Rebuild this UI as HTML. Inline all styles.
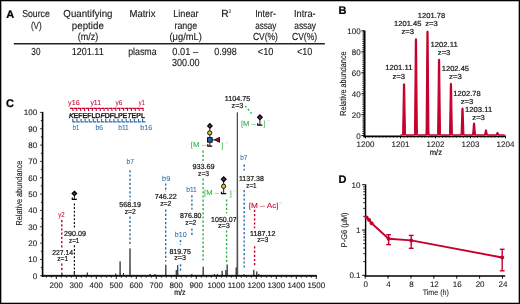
<!DOCTYPE html>
<html><head><meta charset="utf-8"><style>
html,body{margin:0;padding:0;background:#fff;}
body{width:520px;height:304px;overflow:hidden;position:relative;}
svg{position:absolute;left:0;top:0;font-family:"Liberation Sans", sans-serif;will-change:transform;text-rendering:geometricPrecision;filter:blur(0.3px);}
.frame{position:absolute;left:0;top:0;width:520px;height:304px;box-sizing:border-box;border:1px solid #000;box-shadow:inset 0 0 0 0.6px rgba(0,0,0,0.55);}
</style></head><body>
<svg width="520" height="304" viewBox="0 0 520 304" fill="#1a1a1a">
<text x="6.20" y="17.60" font-size="11" stroke="#000" stroke-width="0.22" fill="#000" font-weight="bold">A</text>
<text x="36.00" y="17.20" font-size="10.2" stroke="#1a1a1a" stroke-width="0.14" text-anchor="middle" textLength="27.70" lengthAdjust="spacingAndGlyphs">Source</text>
<text x="36.30" y="28.50" font-size="10.2" stroke="#1a1a1a" stroke-width="0.14" text-anchor="middle" textLength="10.70" lengthAdjust="spacingAndGlyphs">(V)</text>
<text x="87.90" y="17.20" font-size="10.2" stroke="#1a1a1a" stroke-width="0.14" text-anchor="middle" textLength="49.10" lengthAdjust="spacingAndGlyphs">Quantifying</text>
<text x="87.85" y="28.50" font-size="10.2" stroke="#1a1a1a" stroke-width="0.14" text-anchor="middle" textLength="32.00" lengthAdjust="spacingAndGlyphs">peptide</text>
<text x="87.90" y="39.80" font-size="10.2" stroke="#1a1a1a" stroke-width="0.14" text-anchor="middle" textLength="20.50" lengthAdjust="spacingAndGlyphs">(m/z)</text>
<text x="142.45" y="17.20" font-size="10.2" stroke="#1a1a1a" stroke-width="0.14" text-anchor="middle" textLength="26.00" lengthAdjust="spacingAndGlyphs">Matrix</text>
<text x="185.95" y="17.20" font-size="10.2" stroke="#1a1a1a" stroke-width="0.14" text-anchor="middle" textLength="25.40" lengthAdjust="spacingAndGlyphs">Linear</text>
<text x="185.80" y="28.50" font-size="10.2" stroke="#1a1a1a" stroke-width="0.14" text-anchor="middle" textLength="22.70" lengthAdjust="spacingAndGlyphs">range</text>
<text x="185.70" y="39.80" font-size="10.2" stroke="#1a1a1a" stroke-width="0.14" text-anchor="middle" textLength="32.50" lengthAdjust="spacingAndGlyphs">(μg/mL)</text>
<text x="226.20" y="17.20" font-size="10.2" stroke="#1a1a1a" stroke-width="0.22" text-anchor="middle">R<tspan font-size="5" dy="-3.9" stroke-width="0.05">2</tspan></text>
<text x="265.50" y="17.20" font-size="10.2" stroke="#1a1a1a" stroke-width="0.14" text-anchor="middle" textLength="20.70" lengthAdjust="spacingAndGlyphs">Inter-</text>
<text x="265.70" y="28.50" font-size="10.2" stroke="#1a1a1a" stroke-width="0.14" text-anchor="middle" textLength="21.10" lengthAdjust="spacingAndGlyphs">assay</text>
<text x="265.45" y="39.80" font-size="10.2" stroke="#1a1a1a" stroke-width="0.14" text-anchor="middle" textLength="25.00" lengthAdjust="spacingAndGlyphs">CV(%)</text>
<text x="304.85" y="17.20" font-size="10.2" stroke="#1a1a1a" stroke-width="0.14" text-anchor="middle" textLength="21.60" lengthAdjust="spacingAndGlyphs">Intra-</text>
<text x="305.15" y="28.50" font-size="10.2" stroke="#1a1a1a" stroke-width="0.14" text-anchor="middle" textLength="21.80" lengthAdjust="spacingAndGlyphs">assay</text>
<text x="304.55" y="39.80" font-size="10.2" stroke="#1a1a1a" stroke-width="0.14" text-anchor="middle" textLength="25.00" lengthAdjust="spacingAndGlyphs">CV(%)</text>
<line x1="13.80" y1="43.70" x2="324.80" y2="43.70" stroke="#222" stroke-width="1.5"/>
<text x="35.90" y="54.70" font-size="10.2" stroke="#1a1a1a" stroke-width="0.14" text-anchor="middle" textLength="9.10" lengthAdjust="spacingAndGlyphs">30</text>
<text x="87.70" y="54.70" font-size="10.2" stroke="#1a1a1a" stroke-width="0.14" text-anchor="middle" textLength="32.10" lengthAdjust="spacingAndGlyphs">1201.11</text>
<text x="142.40" y="54.70" font-size="10.2" stroke="#1a1a1a" stroke-width="0.14" text-anchor="middle" textLength="28.50" lengthAdjust="spacingAndGlyphs">plasma</text>
<text x="185.20" y="54.70" font-size="10.2" stroke="#1a1a1a" stroke-width="0.14" text-anchor="middle" textLength="25.70" lengthAdjust="spacingAndGlyphs">0.01 –</text>
<text x="185.80" y="65.80" font-size="10.2" stroke="#1a1a1a" stroke-width="0.14" text-anchor="middle" textLength="27.70" lengthAdjust="spacingAndGlyphs">300.00</text>
<text x="225.60" y="54.70" font-size="10.2" stroke="#1a1a1a" stroke-width="0.14" text-anchor="middle" textLength="22.50" lengthAdjust="spacingAndGlyphs">0.998</text>
<text x="265.60" y="54.70" font-size="10.2" stroke="#1a1a1a" stroke-width="0.14" text-anchor="middle" textLength="15.70" lengthAdjust="spacingAndGlyphs">&lt;10</text>
<text x="304.60" y="54.70" font-size="10.2" stroke="#1a1a1a" stroke-width="0.14" text-anchor="middle" textLength="15.30" lengthAdjust="spacingAndGlyphs">&lt;10</text>
<text x="338.60" y="14.40" font-size="11" stroke="#000" stroke-width="0.22" fill="#000" font-weight="bold">B</text>
<line x1="362.20" y1="135.60" x2="364.00" y2="135.60" stroke="#111" stroke-width="0.7"/>
<line x1="362.20" y1="133.51" x2="364.00" y2="133.51" stroke="#111" stroke-width="0.7"/>
<line x1="362.20" y1="131.41" x2="364.00" y2="131.41" stroke="#111" stroke-width="0.7"/>
<line x1="362.20" y1="129.32" x2="364.00" y2="129.32" stroke="#111" stroke-width="0.7"/>
<line x1="362.20" y1="127.22" x2="364.00" y2="127.22" stroke="#111" stroke-width="0.7"/>
<line x1="362.20" y1="125.13" x2="364.00" y2="125.13" stroke="#111" stroke-width="0.7"/>
<line x1="362.20" y1="123.04" x2="364.00" y2="123.04" stroke="#111" stroke-width="0.7"/>
<line x1="362.20" y1="120.94" x2="364.00" y2="120.94" stroke="#111" stroke-width="0.7"/>
<line x1="362.20" y1="118.85" x2="364.00" y2="118.85" stroke="#111" stroke-width="0.7"/>
<line x1="362.20" y1="116.75" x2="364.00" y2="116.75" stroke="#111" stroke-width="0.7"/>
<line x1="362.20" y1="114.66" x2="364.00" y2="114.66" stroke="#111" stroke-width="0.7"/>
<line x1="362.20" y1="112.57" x2="364.00" y2="112.57" stroke="#111" stroke-width="0.7"/>
<line x1="362.20" y1="110.47" x2="364.00" y2="110.47" stroke="#111" stroke-width="0.7"/>
<line x1="362.20" y1="108.38" x2="364.00" y2="108.38" stroke="#111" stroke-width="0.7"/>
<line x1="362.20" y1="106.28" x2="364.00" y2="106.28" stroke="#111" stroke-width="0.7"/>
<line x1="362.20" y1="104.19" x2="364.00" y2="104.19" stroke="#111" stroke-width="0.7"/>
<line x1="362.20" y1="102.10" x2="364.00" y2="102.10" stroke="#111" stroke-width="0.7"/>
<line x1="362.20" y1="100.00" x2="364.00" y2="100.00" stroke="#111" stroke-width="0.7"/>
<line x1="362.20" y1="97.91" x2="364.00" y2="97.91" stroke="#111" stroke-width="0.7"/>
<line x1="362.20" y1="95.81" x2="364.00" y2="95.81" stroke="#111" stroke-width="0.7"/>
<line x1="362.20" y1="93.72" x2="364.00" y2="93.72" stroke="#111" stroke-width="0.7"/>
<line x1="362.20" y1="91.63" x2="364.00" y2="91.63" stroke="#111" stroke-width="0.7"/>
<line x1="362.20" y1="89.53" x2="364.00" y2="89.53" stroke="#111" stroke-width="0.7"/>
<line x1="362.20" y1="87.44" x2="364.00" y2="87.44" stroke="#111" stroke-width="0.7"/>
<line x1="362.20" y1="85.34" x2="364.00" y2="85.34" stroke="#111" stroke-width="0.7"/>
<line x1="362.20" y1="83.25" x2="364.00" y2="83.25" stroke="#111" stroke-width="0.7"/>
<line x1="362.20" y1="81.16" x2="364.00" y2="81.16" stroke="#111" stroke-width="0.7"/>
<line x1="362.20" y1="79.06" x2="364.00" y2="79.06" stroke="#111" stroke-width="0.7"/>
<line x1="362.20" y1="76.97" x2="364.00" y2="76.97" stroke="#111" stroke-width="0.7"/>
<line x1="362.20" y1="74.87" x2="364.00" y2="74.87" stroke="#111" stroke-width="0.7"/>
<line x1="362.20" y1="72.78" x2="364.00" y2="72.78" stroke="#111" stroke-width="0.7"/>
<line x1="362.20" y1="70.69" x2="364.00" y2="70.69" stroke="#111" stroke-width="0.7"/>
<line x1="362.20" y1="68.59" x2="364.00" y2="68.59" stroke="#111" stroke-width="0.7"/>
<line x1="362.20" y1="66.50" x2="364.00" y2="66.50" stroke="#111" stroke-width="0.7"/>
<line x1="362.20" y1="64.40" x2="364.00" y2="64.40" stroke="#111" stroke-width="0.7"/>
<line x1="362.20" y1="62.31" x2="364.00" y2="62.31" stroke="#111" stroke-width="0.7"/>
<line x1="362.20" y1="60.22" x2="364.00" y2="60.22" stroke="#111" stroke-width="0.7"/>
<line x1="362.20" y1="58.12" x2="364.00" y2="58.12" stroke="#111" stroke-width="0.7"/>
<line x1="362.20" y1="56.03" x2="364.00" y2="56.03" stroke="#111" stroke-width="0.7"/>
<line x1="362.20" y1="53.93" x2="364.00" y2="53.93" stroke="#111" stroke-width="0.7"/>
<line x1="362.20" y1="51.84" x2="364.00" y2="51.84" stroke="#111" stroke-width="0.7"/>
<line x1="362.20" y1="49.75" x2="364.00" y2="49.75" stroke="#111" stroke-width="0.7"/>
<line x1="362.20" y1="47.65" x2="364.00" y2="47.65" stroke="#111" stroke-width="0.7"/>
<line x1="362.20" y1="45.56" x2="364.00" y2="45.56" stroke="#111" stroke-width="0.7"/>
<line x1="362.20" y1="43.46" x2="364.00" y2="43.46" stroke="#111" stroke-width="0.7"/>
<line x1="362.20" y1="41.37" x2="364.00" y2="41.37" stroke="#111" stroke-width="0.7"/>
<line x1="362.20" y1="39.28" x2="364.00" y2="39.28" stroke="#111" stroke-width="0.7"/>
<line x1="362.20" y1="37.18" x2="364.00" y2="37.18" stroke="#111" stroke-width="0.7"/>
<line x1="362.20" y1="35.09" x2="364.00" y2="35.09" stroke="#111" stroke-width="0.7"/>
<line x1="362.20" y1="32.99" x2="364.00" y2="32.99" stroke="#111" stroke-width="0.7"/>
<line x1="362.20" y1="30.90" x2="364.00" y2="30.90" stroke="#111" stroke-width="0.7"/>
<line x1="361.30" y1="135.60" x2="364.00" y2="135.60" stroke="#111" stroke-width="0.9"/>
<text x="360.60" y="138.90" font-size="8.0" stroke="#1a1a1a" stroke-width="0.1" text-anchor="end">0</text>
<line x1="361.30" y1="114.66" x2="364.00" y2="114.66" stroke="#111" stroke-width="0.9"/>
<text x="360.60" y="117.96" font-size="8.0" stroke="#1a1a1a" stroke-width="0.1" text-anchor="end">20</text>
<line x1="361.30" y1="93.72" x2="364.00" y2="93.72" stroke="#111" stroke-width="0.9"/>
<text x="360.60" y="97.02" font-size="8.0" stroke="#1a1a1a" stroke-width="0.1" text-anchor="end">40</text>
<line x1="361.30" y1="72.78" x2="364.00" y2="72.78" stroke="#111" stroke-width="0.9"/>
<text x="360.60" y="76.08" font-size="8.0" stroke="#1a1a1a" stroke-width="0.1" text-anchor="end">60</text>
<line x1="361.30" y1="51.84" x2="364.00" y2="51.84" stroke="#111" stroke-width="0.9"/>
<text x="360.60" y="55.14" font-size="8.0" stroke="#1a1a1a" stroke-width="0.1" text-anchor="end">80</text>
<line x1="361.30" y1="30.90" x2="364.00" y2="30.90" stroke="#111" stroke-width="0.9"/>
<text x="360.60" y="34.20" font-size="8.0" stroke="#1a1a1a" stroke-width="0.1" text-anchor="end">100</text>
<line x1="364.50" y1="30.40" x2="364.50" y2="137.40" stroke="#000" stroke-width="2"/>
<line x1="363.50" y1="136.40" x2="506.00" y2="136.40" stroke="#000" stroke-width="1.9"/>
<line x1="365.50" y1="137.00" x2="365.50" y2="137.90" stroke="#111" stroke-width="0.6"/>
<line x1="369.00" y1="137.00" x2="369.00" y2="137.90" stroke="#111" stroke-width="0.6"/>
<line x1="372.50" y1="137.00" x2="372.50" y2="137.90" stroke="#111" stroke-width="0.6"/>
<line x1="376.00" y1="137.00" x2="376.00" y2="137.90" stroke="#111" stroke-width="0.6"/>
<line x1="379.50" y1="137.00" x2="379.50" y2="137.90" stroke="#111" stroke-width="0.6"/>
<line x1="383.00" y1="137.00" x2="383.00" y2="137.90" stroke="#111" stroke-width="0.6"/>
<line x1="386.50" y1="137.00" x2="386.50" y2="137.90" stroke="#111" stroke-width="0.6"/>
<line x1="390.00" y1="137.00" x2="390.00" y2="137.90" stroke="#111" stroke-width="0.6"/>
<line x1="393.50" y1="137.00" x2="393.50" y2="137.90" stroke="#111" stroke-width="0.6"/>
<line x1="397.00" y1="137.00" x2="397.00" y2="137.90" stroke="#111" stroke-width="0.6"/>
<line x1="400.50" y1="137.00" x2="400.50" y2="137.90" stroke="#111" stroke-width="0.6"/>
<line x1="404.00" y1="137.00" x2="404.00" y2="137.90" stroke="#111" stroke-width="0.6"/>
<line x1="407.50" y1="137.00" x2="407.50" y2="137.90" stroke="#111" stroke-width="0.6"/>
<line x1="411.00" y1="137.00" x2="411.00" y2="137.90" stroke="#111" stroke-width="0.6"/>
<line x1="414.50" y1="137.00" x2="414.50" y2="137.90" stroke="#111" stroke-width="0.6"/>
<line x1="418.00" y1="137.00" x2="418.00" y2="137.90" stroke="#111" stroke-width="0.6"/>
<line x1="421.50" y1="137.00" x2="421.50" y2="137.90" stroke="#111" stroke-width="0.6"/>
<line x1="425.00" y1="137.00" x2="425.00" y2="137.90" stroke="#111" stroke-width="0.6"/>
<line x1="428.50" y1="137.00" x2="428.50" y2="137.90" stroke="#111" stroke-width="0.6"/>
<line x1="432.00" y1="137.00" x2="432.00" y2="137.90" stroke="#111" stroke-width="0.6"/>
<line x1="435.50" y1="137.00" x2="435.50" y2="137.90" stroke="#111" stroke-width="0.6"/>
<line x1="439.00" y1="137.00" x2="439.00" y2="137.90" stroke="#111" stroke-width="0.6"/>
<line x1="442.50" y1="137.00" x2="442.50" y2="137.90" stroke="#111" stroke-width="0.6"/>
<line x1="446.00" y1="137.00" x2="446.00" y2="137.90" stroke="#111" stroke-width="0.6"/>
<line x1="449.50" y1="137.00" x2="449.50" y2="137.90" stroke="#111" stroke-width="0.6"/>
<line x1="453.00" y1="137.00" x2="453.00" y2="137.90" stroke="#111" stroke-width="0.6"/>
<line x1="456.50" y1="137.00" x2="456.50" y2="137.90" stroke="#111" stroke-width="0.6"/>
<line x1="460.00" y1="137.00" x2="460.00" y2="137.90" stroke="#111" stroke-width="0.6"/>
<line x1="463.50" y1="137.00" x2="463.50" y2="137.90" stroke="#111" stroke-width="0.6"/>
<line x1="467.00" y1="137.00" x2="467.00" y2="137.90" stroke="#111" stroke-width="0.6"/>
<line x1="470.50" y1="137.00" x2="470.50" y2="137.90" stroke="#111" stroke-width="0.6"/>
<line x1="474.00" y1="137.00" x2="474.00" y2="137.90" stroke="#111" stroke-width="0.6"/>
<line x1="477.50" y1="137.00" x2="477.50" y2="137.90" stroke="#111" stroke-width="0.6"/>
<line x1="481.00" y1="137.00" x2="481.00" y2="137.90" stroke="#111" stroke-width="0.6"/>
<line x1="484.50" y1="137.00" x2="484.50" y2="137.90" stroke="#111" stroke-width="0.6"/>
<line x1="488.00" y1="137.00" x2="488.00" y2="137.90" stroke="#111" stroke-width="0.6"/>
<line x1="491.50" y1="137.00" x2="491.50" y2="137.90" stroke="#111" stroke-width="0.6"/>
<line x1="495.00" y1="137.00" x2="495.00" y2="137.90" stroke="#111" stroke-width="0.6"/>
<line x1="498.50" y1="137.00" x2="498.50" y2="137.90" stroke="#111" stroke-width="0.6"/>
<line x1="502.00" y1="137.00" x2="502.00" y2="137.90" stroke="#111" stroke-width="0.6"/>
<line x1="505.50" y1="137.00" x2="505.50" y2="137.90" stroke="#111" stroke-width="0.6"/>
<line x1="365.50" y1="136.00" x2="365.50" y2="138.40" stroke="#000" stroke-width="0.9"/>
<text x="365.50" y="146.70" font-size="8.0" stroke="#1a1a1a" stroke-width="0.1" text-anchor="middle">1200</text>
<line x1="400.50" y1="136.00" x2="400.50" y2="138.40" stroke="#000" stroke-width="0.9"/>
<text x="400.50" y="146.70" font-size="8.0" stroke="#1a1a1a" stroke-width="0.1" text-anchor="middle">1201</text>
<line x1="435.50" y1="136.00" x2="435.50" y2="138.40" stroke="#000" stroke-width="0.9"/>
<text x="435.50" y="146.70" font-size="8.0" stroke="#1a1a1a" stroke-width="0.1" text-anchor="middle">1202</text>
<line x1="470.50" y1="136.00" x2="470.50" y2="138.40" stroke="#000" stroke-width="0.9"/>
<text x="470.50" y="146.70" font-size="8.0" stroke="#1a1a1a" stroke-width="0.1" text-anchor="middle">1203</text>
<line x1="505.50" y1="136.00" x2="505.50" y2="138.40" stroke="#000" stroke-width="0.9"/>
<text x="505.50" y="146.70" font-size="8.0" stroke="#1a1a1a" stroke-width="0.1" text-anchor="middle">1204</text>
<text x="435.90" y="155.40" font-size="8.0" stroke="#1a1a1a" stroke-width="0.22" text-anchor="middle" textLength="12.30" lengthAdjust="spacingAndGlyphs">m/z</text>
<text x="346.20" y="83.60" font-size="8.7" stroke="#1a1a1a" stroke-width="0.12" text-anchor="middle" textLength="64.50" lengthAdjust="spacingAndGlyphs" transform="rotate(-90 346.20 83.60)">Relative abundance</text>
<path d="M 400.50 134.9 L 402.05 134.9 Q 402.70 134.90 402.90 123.63 L 403.55 84.47 Q 404.05 83.27 404.55 84.47 L 405.20 123.63 Q 405.40 134.90 406.05 134.9 L 413.95 134.9 Q 414.60 134.90 414.80 113.72 L 415.45 39.45 Q 415.95 38.25 416.45 39.45 L 417.10 113.72 Q 417.30 134.90 417.95 134.9 L 425.50 134.9 Q 426.15 134.90 426.35 112.02 L 427.00 31.70 Q 427.50 30.50 428.00 31.70 L 428.65 112.02 Q 428.85 134.90 429.50 134.9 L 437.05 134.9 Q 437.70 134.90 437.90 118.24 L 438.55 59.97 Q 439.05 58.77 439.55 59.97 L 440.20 118.24 Q 440.40 134.90 441.05 134.9 L 448.95 134.9 Q 449.60 134.90 449.80 123.54 L 450.45 84.05 Q 450.95 82.85 451.45 84.05 L 452.10 123.54 Q 452.30 134.90 452.95 134.9 L 460.50 134.9 Q 461.15 134.90 461.35 128.95 L 462.00 108.65 Q 462.50 107.45 463.00 108.65 L 463.65 128.95 Q 463.85 134.90 464.50 134.9 L 472.05 134.9 Q 472.70 134.90 472.90 132.29 L 473.55 123.84 Q 474.05 122.64 474.55 123.84 L 475.20 132.29 Q 475.40 134.90 476.05 134.9 L 483.95 134.9 Q 484.60 134.90 484.80 133.76 L 485.45 130.54 Q 485.95 129.34 486.45 130.54 L 487.10 133.76 Q 487.30 134.90 487.95 134.9 L 495.50 134.9 Q 496.15 134.90 496.35 134.29 L 497.00 132.94 Q 497.50 131.74 498.00 132.94 L 498.65 134.29 Q 498.85 134.90 499.50 134.9 L 504.80 134.9" stroke="#c6002e" stroke-width="1.25" fill="#c6002e" stroke-linejoin="round"/>
<text x="398.80" y="70.40" font-size="7.3" stroke="#1a1a1a" stroke-width="0.22" text-anchor="middle" textLength="27.30" lengthAdjust="spacingAndGlyphs">1201.11</text>
<text x="398.80" y="78.60" font-size="7.3" stroke="#1a1a1a" stroke-width="0.22" text-anchor="middle" textLength="12.60" lengthAdjust="spacingAndGlyphs">z=3</text>
<text x="407.70" y="25.50" font-size="7.3" stroke="#1a1a1a" stroke-width="0.22" text-anchor="middle" textLength="27.30" lengthAdjust="spacingAndGlyphs">1201.45</text>
<text x="407.70" y="33.70" font-size="7.3" stroke="#1a1a1a" stroke-width="0.22" text-anchor="middle" textLength="12.60" lengthAdjust="spacingAndGlyphs">z=3</text>
<text x="431.50" y="17.70" font-size="7.3" stroke="#1a1a1a" stroke-width="0.22" text-anchor="middle" textLength="27.30" lengthAdjust="spacingAndGlyphs">1201.78</text>
<text x="431.50" y="25.90" font-size="7.3" stroke="#1a1a1a" stroke-width="0.22" text-anchor="middle" textLength="12.60" lengthAdjust="spacingAndGlyphs">z=3</text>
<text x="444.10" y="47.10" font-size="7.3" stroke="#1a1a1a" stroke-width="0.22" text-anchor="middle" textLength="27.30" lengthAdjust="spacingAndGlyphs">1202.11</text>
<text x="444.10" y="55.30" font-size="7.3" stroke="#1a1a1a" stroke-width="0.22" text-anchor="middle" textLength="12.60" lengthAdjust="spacingAndGlyphs">z=3</text>
<text x="455.40" y="70.50" font-size="7.3" stroke="#1a1a1a" stroke-width="0.22" text-anchor="middle" textLength="27.30" lengthAdjust="spacingAndGlyphs">1202.45</text>
<text x="455.40" y="78.70" font-size="7.3" stroke="#1a1a1a" stroke-width="0.22" text-anchor="middle" textLength="12.60" lengthAdjust="spacingAndGlyphs">z=3</text>
<text x="467.00" y="96.00" font-size="7.3" stroke="#1a1a1a" stroke-width="0.22" text-anchor="middle" textLength="27.30" lengthAdjust="spacingAndGlyphs">1202.78</text>
<text x="467.00" y="104.20" font-size="7.3" stroke="#1a1a1a" stroke-width="0.22" text-anchor="middle" textLength="12.60" lengthAdjust="spacingAndGlyphs">z=3</text>
<text x="478.60" y="112.20" font-size="7.3" stroke="#1a1a1a" stroke-width="0.22" text-anchor="middle" textLength="27.30" lengthAdjust="spacingAndGlyphs">1203.11</text>
<text x="478.60" y="120.40" font-size="7.3" stroke="#1a1a1a" stroke-width="0.22" text-anchor="middle" textLength="12.60" lengthAdjust="spacingAndGlyphs">z=3</text>
<text x="338.60" y="182.70" font-size="11" stroke="#000" stroke-width="0.22" fill="#000" font-weight="bold">D</text>
<line x1="365.60" y1="184.30" x2="365.60" y2="276.60" stroke="#000" stroke-width="1.4"/>
<line x1="363.20" y1="261.66" x2="365.00" y2="261.66" stroke="#111" stroke-width="0.9"/>
<line x1="363.20" y1="253.69" x2="365.00" y2="253.69" stroke="#111" stroke-width="0.9"/>
<line x1="363.20" y1="248.03" x2="365.00" y2="248.03" stroke="#111" stroke-width="0.9"/>
<line x1="363.20" y1="243.64" x2="365.00" y2="243.64" stroke="#111" stroke-width="0.9"/>
<line x1="363.20" y1="240.05" x2="365.00" y2="240.05" stroke="#111" stroke-width="0.9"/>
<line x1="363.20" y1="237.02" x2="365.00" y2="237.02" stroke="#111" stroke-width="0.9"/>
<line x1="363.20" y1="234.39" x2="365.00" y2="234.39" stroke="#111" stroke-width="0.9"/>
<line x1="363.20" y1="232.07" x2="365.00" y2="232.07" stroke="#111" stroke-width="0.9"/>
<line x1="363.20" y1="216.36" x2="365.00" y2="216.36" stroke="#111" stroke-width="0.9"/>
<line x1="363.20" y1="208.39" x2="365.00" y2="208.39" stroke="#111" stroke-width="0.9"/>
<line x1="363.20" y1="202.73" x2="365.00" y2="202.73" stroke="#111" stroke-width="0.9"/>
<line x1="363.20" y1="198.34" x2="365.00" y2="198.34" stroke="#111" stroke-width="0.9"/>
<line x1="363.20" y1="194.75" x2="365.00" y2="194.75" stroke="#111" stroke-width="0.9"/>
<line x1="363.20" y1="191.72" x2="365.00" y2="191.72" stroke="#111" stroke-width="0.9"/>
<line x1="363.20" y1="189.09" x2="365.00" y2="189.09" stroke="#111" stroke-width="0.9"/>
<line x1="363.20" y1="186.77" x2="365.00" y2="186.77" stroke="#111" stroke-width="0.9"/>
<line x1="362.20" y1="184.70" x2="365.00" y2="184.70" stroke="#000" stroke-width="1.0"/>
<text x="360.50" y="187.70" font-size="8.0" stroke="#1a1a1a" stroke-width="0.08" text-anchor="end">10</text>
<line x1="362.20" y1="230.00" x2="365.00" y2="230.00" stroke="#000" stroke-width="1.0"/>
<text x="360.50" y="233.00" font-size="8.0" stroke="#1a1a1a" stroke-width="0.08" text-anchor="end">1</text>
<line x1="362.20" y1="275.30" x2="365.00" y2="275.30" stroke="#000" stroke-width="1.0"/>
<text x="360.50" y="278.30" font-size="8.0" stroke="#1a1a1a" stroke-width="0.08" text-anchor="end">0.1</text>
<line x1="364.90" y1="275.90" x2="505.20" y2="275.90" stroke="#000" stroke-width="1.5"/>
<line x1="365.20" y1="275.50" x2="365.20" y2="278.60" stroke="#000" stroke-width="1.0"/>
<text x="365.70" y="287.00" font-size="8.0" stroke="#1a1a1a" stroke-width="0.08" text-anchor="middle">0</text>
<line x1="388.08" y1="275.50" x2="388.08" y2="278.60" stroke="#000" stroke-width="1.0"/>
<text x="388.58" y="287.00" font-size="8.0" stroke="#1a1a1a" stroke-width="0.08" text-anchor="middle">4</text>
<line x1="410.96" y1="275.50" x2="410.96" y2="278.60" stroke="#000" stroke-width="1.0"/>
<text x="411.46" y="287.00" font-size="8.0" stroke="#1a1a1a" stroke-width="0.08" text-anchor="middle">8</text>
<line x1="433.84" y1="275.50" x2="433.84" y2="278.60" stroke="#000" stroke-width="1.0"/>
<text x="434.34" y="287.00" font-size="8.0" stroke="#1a1a1a" stroke-width="0.08" text-anchor="middle">12</text>
<line x1="456.72" y1="275.50" x2="456.72" y2="278.60" stroke="#000" stroke-width="1.0"/>
<text x="457.22" y="287.00" font-size="8.0" stroke="#1a1a1a" stroke-width="0.08" text-anchor="middle">16</text>
<line x1="479.60" y1="275.50" x2="479.60" y2="278.60" stroke="#000" stroke-width="1.0"/>
<text x="480.10" y="287.00" font-size="8.0" stroke="#1a1a1a" stroke-width="0.08" text-anchor="middle">20</text>
<line x1="502.48" y1="275.50" x2="502.48" y2="278.60" stroke="#000" stroke-width="1.0"/>
<text x="502.98" y="287.00" font-size="8.0" stroke="#1a1a1a" stroke-width="0.08" text-anchor="middle">24</text>
<text x="435.80" y="294.60" font-size="8" stroke="#1a1a1a" stroke-width="0.08" text-anchor="middle" textLength="26.30" lengthAdjust="spacingAndGlyphs">Time (h)</text>
<text x="347.40" y="229.80" font-size="8.4" stroke="#1a1a1a" stroke-width="0.08" text-anchor="middle" textLength="34.80" lengthAdjust="spacingAndGlyphs" transform="rotate(-90 347.40 229.80)">P-G6 (μM)</text>
<path d="M 366.60 217.40 L 369.10 219.90 L 371.60 223.20 L 388.60 238.70 L 411.20 240.40 L 502.20 257.50" stroke="#c6002e" stroke-width="1.9" fill="none" stroke-linejoin="round"/>
<circle cx="366.60" cy="217.40" r="2.0" fill="#c6002e"/>
<circle cx="369.10" cy="219.90" r="2.0" fill="#c6002e"/>
<circle cx="371.60" cy="223.20" r="2.0" fill="#c6002e"/>
<circle cx="388.60" cy="238.70" r="2.0" fill="#c6002e"/>
<circle cx="411.20" cy="240.40" r="2.0" fill="#c6002e"/>
<circle cx="502.20" cy="257.50" r="2.0" fill="#c6002e"/>
<line x1="388.60" y1="234.70" x2="388.60" y2="244.60" stroke="#c6002e" stroke-width="1.4"/>
<line x1="386.20" y1="234.70" x2="391.00" y2="234.70" stroke="#c6002e" stroke-width="1.4"/>
<line x1="386.20" y1="244.60" x2="391.00" y2="244.60" stroke="#c6002e" stroke-width="1.4"/>
<line x1="411.20" y1="235.40" x2="411.20" y2="248.30" stroke="#c6002e" stroke-width="1.4"/>
<line x1="408.80" y1="235.40" x2="413.60" y2="235.40" stroke="#c6002e" stroke-width="1.4"/>
<line x1="408.80" y1="248.30" x2="413.60" y2="248.30" stroke="#c6002e" stroke-width="1.4"/>
<line x1="502.20" y1="249.30" x2="502.20" y2="270.80" stroke="#c6002e" stroke-width="1.4"/>
<line x1="499.80" y1="249.30" x2="504.60" y2="249.30" stroke="#c6002e" stroke-width="1.4"/>
<line x1="499.80" y1="270.80" x2="504.60" y2="270.80" stroke="#c6002e" stroke-width="1.4"/>
<text x="5.90" y="106.70" font-size="11" stroke="#000" stroke-width="0.22" fill="#000" font-weight="bold">C</text>
<line x1="40.20" y1="275.80" x2="42.50" y2="275.80" stroke="#111" stroke-width="0.9"/>
<text x="37.10" y="278.70" font-size="8.0" stroke="#1a1a1a" stroke-width="0.12" text-anchor="end">0</text>
<line x1="40.80" y1="267.63" x2="42.50" y2="267.63" stroke="#111" stroke-width="0.9"/>
<line x1="40.20" y1="259.46" x2="42.50" y2="259.46" stroke="#111" stroke-width="0.9"/>
<text x="37.10" y="262.36" font-size="8.0" stroke="#1a1a1a" stroke-width="0.12" text-anchor="end">10</text>
<line x1="40.80" y1="251.29" x2="42.50" y2="251.29" stroke="#111" stroke-width="0.9"/>
<line x1="40.20" y1="243.12" x2="42.50" y2="243.12" stroke="#111" stroke-width="0.9"/>
<text x="37.10" y="246.02" font-size="8.0" stroke="#1a1a1a" stroke-width="0.12" text-anchor="end">20</text>
<line x1="40.80" y1="234.95" x2="42.50" y2="234.95" stroke="#111" stroke-width="0.9"/>
<line x1="40.20" y1="226.78" x2="42.50" y2="226.78" stroke="#111" stroke-width="0.9"/>
<text x="37.10" y="229.68" font-size="8.0" stroke="#1a1a1a" stroke-width="0.12" text-anchor="end">30</text>
<line x1="40.80" y1="218.61" x2="42.50" y2="218.61" stroke="#111" stroke-width="0.9"/>
<line x1="40.20" y1="210.44" x2="42.50" y2="210.44" stroke="#111" stroke-width="0.9"/>
<text x="37.10" y="213.34" font-size="8.0" stroke="#1a1a1a" stroke-width="0.12" text-anchor="end">40</text>
<line x1="40.80" y1="202.27" x2="42.50" y2="202.27" stroke="#111" stroke-width="0.9"/>
<line x1="40.20" y1="194.10" x2="42.50" y2="194.10" stroke="#111" stroke-width="0.9"/>
<text x="37.10" y="197.00" font-size="8.0" stroke="#1a1a1a" stroke-width="0.12" text-anchor="end">50</text>
<line x1="40.80" y1="185.93" x2="42.50" y2="185.93" stroke="#111" stroke-width="0.9"/>
<line x1="40.20" y1="177.76" x2="42.50" y2="177.76" stroke="#111" stroke-width="0.9"/>
<text x="37.10" y="180.66" font-size="8.0" stroke="#1a1a1a" stroke-width="0.12" text-anchor="end">60</text>
<line x1="40.80" y1="169.59" x2="42.50" y2="169.59" stroke="#111" stroke-width="0.9"/>
<line x1="40.20" y1="161.42" x2="42.50" y2="161.42" stroke="#111" stroke-width="0.9"/>
<text x="37.10" y="164.32" font-size="8.0" stroke="#1a1a1a" stroke-width="0.12" text-anchor="end">70</text>
<line x1="40.80" y1="153.25" x2="42.50" y2="153.25" stroke="#111" stroke-width="0.9"/>
<line x1="40.20" y1="145.08" x2="42.50" y2="145.08" stroke="#111" stroke-width="0.9"/>
<text x="37.10" y="147.98" font-size="8.0" stroke="#1a1a1a" stroke-width="0.12" text-anchor="end">80</text>
<line x1="40.80" y1="136.91" x2="42.50" y2="136.91" stroke="#111" stroke-width="0.9"/>
<line x1="40.20" y1="128.74" x2="42.50" y2="128.74" stroke="#111" stroke-width="0.9"/>
<text x="37.10" y="131.64" font-size="8.0" stroke="#1a1a1a" stroke-width="0.12" text-anchor="end">90</text>
<line x1="40.80" y1="120.57" x2="42.50" y2="120.57" stroke="#111" stroke-width="0.9"/>
<line x1="40.20" y1="112.40" x2="42.50" y2="112.40" stroke="#111" stroke-width="0.9"/>
<text x="37.10" y="115.30" font-size="8.0" stroke="#1a1a1a" stroke-width="0.12" text-anchor="end">100</text>
<line x1="42.60" y1="111.90" x2="42.60" y2="276.80" stroke="#000" stroke-width="1.6"/>
<line x1="41.80" y1="275.90" x2="316.80" y2="275.90" stroke="#000" stroke-width="1.7"/>
<line x1="46.30" y1="276.00" x2="46.30" y2="277.80" stroke="#111" stroke-width="0.8"/>
<line x1="51.30" y1="276.00" x2="51.30" y2="277.80" stroke="#111" stroke-width="0.8"/>
<line x1="56.30" y1="275.50" x2="56.30" y2="279.00" stroke="#000" stroke-width="0.9"/>
<line x1="61.30" y1="276.00" x2="61.30" y2="277.80" stroke="#111" stroke-width="0.8"/>
<line x1="66.30" y1="276.00" x2="66.30" y2="277.80" stroke="#111" stroke-width="0.8"/>
<line x1="71.30" y1="276.00" x2="71.30" y2="277.80" stroke="#111" stroke-width="0.8"/>
<line x1="76.30" y1="275.50" x2="76.30" y2="279.00" stroke="#000" stroke-width="0.9"/>
<line x1="81.30" y1="276.00" x2="81.30" y2="277.80" stroke="#111" stroke-width="0.8"/>
<line x1="86.30" y1="276.00" x2="86.30" y2="277.80" stroke="#111" stroke-width="0.8"/>
<line x1="91.30" y1="276.00" x2="91.30" y2="277.80" stroke="#111" stroke-width="0.8"/>
<line x1="96.30" y1="275.50" x2="96.30" y2="279.00" stroke="#000" stroke-width="0.9"/>
<line x1="101.30" y1="276.00" x2="101.30" y2="277.80" stroke="#111" stroke-width="0.8"/>
<line x1="106.30" y1="276.00" x2="106.30" y2="277.80" stroke="#111" stroke-width="0.8"/>
<line x1="111.30" y1="276.00" x2="111.30" y2="277.80" stroke="#111" stroke-width="0.8"/>
<line x1="116.30" y1="275.50" x2="116.30" y2="279.00" stroke="#000" stroke-width="0.9"/>
<line x1="121.30" y1="276.00" x2="121.30" y2="277.80" stroke="#111" stroke-width="0.8"/>
<line x1="126.30" y1="276.00" x2="126.30" y2="277.80" stroke="#111" stroke-width="0.8"/>
<line x1="131.30" y1="276.00" x2="131.30" y2="277.80" stroke="#111" stroke-width="0.8"/>
<line x1="136.30" y1="275.50" x2="136.30" y2="279.00" stroke="#000" stroke-width="0.9"/>
<line x1="141.30" y1="276.00" x2="141.30" y2="277.80" stroke="#111" stroke-width="0.8"/>
<line x1="146.30" y1="276.00" x2="146.30" y2="277.80" stroke="#111" stroke-width="0.8"/>
<line x1="151.30" y1="276.00" x2="151.30" y2="277.80" stroke="#111" stroke-width="0.8"/>
<line x1="156.30" y1="275.50" x2="156.30" y2="279.00" stroke="#000" stroke-width="0.9"/>
<line x1="161.30" y1="276.00" x2="161.30" y2="277.80" stroke="#111" stroke-width="0.8"/>
<line x1="166.30" y1="276.00" x2="166.30" y2="277.80" stroke="#111" stroke-width="0.8"/>
<line x1="171.30" y1="276.00" x2="171.30" y2="277.80" stroke="#111" stroke-width="0.8"/>
<line x1="176.30" y1="275.50" x2="176.30" y2="279.00" stroke="#000" stroke-width="0.9"/>
<line x1="181.30" y1="276.00" x2="181.30" y2="277.80" stroke="#111" stroke-width="0.8"/>
<line x1="186.30" y1="276.00" x2="186.30" y2="277.80" stroke="#111" stroke-width="0.8"/>
<line x1="191.30" y1="276.00" x2="191.30" y2="277.80" stroke="#111" stroke-width="0.8"/>
<line x1="196.30" y1="275.50" x2="196.30" y2="279.00" stroke="#000" stroke-width="0.9"/>
<line x1="201.30" y1="276.00" x2="201.30" y2="277.80" stroke="#111" stroke-width="0.8"/>
<line x1="206.30" y1="276.00" x2="206.30" y2="277.80" stroke="#111" stroke-width="0.8"/>
<line x1="211.30" y1="276.00" x2="211.30" y2="277.80" stroke="#111" stroke-width="0.8"/>
<line x1="216.30" y1="275.50" x2="216.30" y2="279.00" stroke="#000" stroke-width="0.9"/>
<line x1="221.30" y1="276.00" x2="221.30" y2="277.80" stroke="#111" stroke-width="0.8"/>
<line x1="226.30" y1="276.00" x2="226.30" y2="277.80" stroke="#111" stroke-width="0.8"/>
<line x1="231.30" y1="276.00" x2="231.30" y2="277.80" stroke="#111" stroke-width="0.8"/>
<line x1="236.30" y1="275.50" x2="236.30" y2="279.00" stroke="#000" stroke-width="0.9"/>
<line x1="241.30" y1="276.00" x2="241.30" y2="277.80" stroke="#111" stroke-width="0.8"/>
<line x1="246.30" y1="276.00" x2="246.30" y2="277.80" stroke="#111" stroke-width="0.8"/>
<line x1="251.30" y1="276.00" x2="251.30" y2="277.80" stroke="#111" stroke-width="0.8"/>
<line x1="256.30" y1="275.50" x2="256.30" y2="279.00" stroke="#000" stroke-width="0.9"/>
<line x1="261.30" y1="276.00" x2="261.30" y2="277.80" stroke="#111" stroke-width="0.8"/>
<line x1="266.30" y1="276.00" x2="266.30" y2="277.80" stroke="#111" stroke-width="0.8"/>
<line x1="271.30" y1="276.00" x2="271.30" y2="277.80" stroke="#111" stroke-width="0.8"/>
<line x1="276.30" y1="275.50" x2="276.30" y2="279.00" stroke="#000" stroke-width="0.9"/>
<line x1="281.30" y1="276.00" x2="281.30" y2="277.80" stroke="#111" stroke-width="0.8"/>
<line x1="286.30" y1="276.00" x2="286.30" y2="277.80" stroke="#111" stroke-width="0.8"/>
<line x1="291.30" y1="276.00" x2="291.30" y2="277.80" stroke="#111" stroke-width="0.8"/>
<line x1="296.30" y1="275.50" x2="296.30" y2="279.00" stroke="#000" stroke-width="0.9"/>
<line x1="301.30" y1="276.00" x2="301.30" y2="277.80" stroke="#111" stroke-width="0.8"/>
<line x1="306.30" y1="276.00" x2="306.30" y2="277.80" stroke="#111" stroke-width="0.8"/>
<line x1="311.30" y1="276.00" x2="311.30" y2="277.80" stroke="#111" stroke-width="0.8"/>
<line x1="316.30" y1="275.50" x2="316.30" y2="279.00" stroke="#000" stroke-width="0.9"/>
<text x="56.30" y="287.60" font-size="8.0" stroke="#1a1a1a" stroke-width="0.12" text-anchor="middle">200</text>
<text x="76.30" y="287.60" font-size="8.0" stroke="#1a1a1a" stroke-width="0.12" text-anchor="middle">300</text>
<text x="96.30" y="287.60" font-size="8.0" stroke="#1a1a1a" stroke-width="0.12" text-anchor="middle">400</text>
<text x="116.30" y="287.60" font-size="8.0" stroke="#1a1a1a" stroke-width="0.12" text-anchor="middle">500</text>
<text x="136.30" y="287.60" font-size="8.0" stroke="#1a1a1a" stroke-width="0.12" text-anchor="middle">600</text>
<text x="156.30" y="287.60" font-size="8.0" stroke="#1a1a1a" stroke-width="0.12" text-anchor="middle">700</text>
<text x="176.30" y="287.60" font-size="8.0" stroke="#1a1a1a" stroke-width="0.12" text-anchor="middle">800</text>
<text x="196.30" y="287.60" font-size="8.0" stroke="#1a1a1a" stroke-width="0.12" text-anchor="middle">900</text>
<text x="216.30" y="287.60" font-size="8.0" stroke="#1a1a1a" stroke-width="0.12" text-anchor="middle">1000</text>
<text x="236.30" y="287.60" font-size="8.0" stroke="#1a1a1a" stroke-width="0.12" text-anchor="middle">1100</text>
<text x="256.30" y="287.60" font-size="8.0" stroke="#1a1a1a" stroke-width="0.12" text-anchor="middle">1200</text>
<text x="276.30" y="287.60" font-size="8.0" stroke="#1a1a1a" stroke-width="0.12" text-anchor="middle">1300</text>
<text x="296.30" y="287.60" font-size="8.0" stroke="#1a1a1a" stroke-width="0.12" text-anchor="middle">1400</text>
<text x="316.30" y="287.60" font-size="8.0" stroke="#1a1a1a" stroke-width="0.12" text-anchor="middle">1500</text>
<text x="179.80" y="295.20" font-size="8.0" stroke="#1a1a1a" stroke-width="0.22" text-anchor="middle" textLength="11.20" lengthAdjust="spacingAndGlyphs">m/z</text>
<text x="22.40" y="193.10" font-size="8.7" stroke="#1a1a1a" stroke-width="0.12" text-anchor="middle" textLength="65.00" lengthAdjust="spacingAndGlyphs" transform="rotate(-90 22.40 193.10)">Relative abundance</text>
<path d="M 43 275.3 L 61.55 275.3 L 61.90 272.60 L 62.25 275.3 L 73.95 275.3 L 74.30 272.00 L 74.65 275.3 L 86.95 275.3 L 87.30 272.60 L 87.65 275.3 L 115.35 275.3 L 115.70 273.60 L 116.05 275.3 L 119.75 275.3 L 120.10 261.40 L 120.45 275.3 L 123.15 275.3 L 123.50 273.00 L 123.85 275.3 L 129.65 275.3 L 130.00 248.40 L 130.35 275.3 L 149.75 275.3 L 150.10 274.00 L 150.45 275.3 L 154.65 275.3 L 155.00 274.00 L 155.35 275.3 L 165.45 275.3 L 165.80 264.80 L 166.15 275.3 L 175.95 275.3 L 176.30 270.00 L 176.65 275.3 L 177.35 275.3 L 177.70 265.10 L 178.05 275.3 L 191.45 275.3 L 191.80 274.00 L 192.15 275.3 L 202.85 275.3 L 203.20 266.80 L 203.55 275.3 L 214.05 275.3 L 214.40 274.00 L 214.75 275.3 L 217.05 275.3 L 217.40 274.00 L 217.75 275.3 L 221.85 275.3 L 222.20 270.90 L 222.55 275.3 L 225.55 275.3 L 225.90 270.00 L 226.25 275.3 L 226.85 275.3 L 227.20 264.60 L 227.55 275.3 L 235.85 275.3 L 236.20 267.50 L 236.55 275.3 L 237.05 275.3 L 237.40 112.60 L 237.75 275.3 L 243.65 275.3 L 244.00 274.20 L 244.35 275.3 L 253.45 275.3 L 253.80 269.90 L 254.15 275.3 L 256.45 275.3 L 256.80 271.50 L 257.15 275.3 L 258.45 275.3 L 258.80 274.00 L 259.15 275.3 L 316 275.3" stroke="#222" stroke-width="0.75" fill="none" stroke-linejoin="miter" stroke-miterlimit="20"/>
<line x1="237.40" y1="112.60" x2="237.40" y2="275.00" stroke="#555" stroke-width="0.8"/>
<text x="68.90" y="117.60" font-size="7.1" textLength="75.90" lengthAdjust="spacingAndGlyphs" stroke="#111" stroke-width="0.38"><tspan font-style="italic">K</tspan>EFEFLD<tspan font-style="italic">F</tspan>DFLPE<tspan font-style="italic">T</tspan>EPL</text>
<path d="M 69.90 108.4 L 72.90 108.4 L 72.90 111.0" stroke="#c6002e" stroke-width="1.1" fill="none"/>
<path d="M 73.80 108.4 L 76.80 108.4 L 76.80 111.0" stroke="#c6002e" stroke-width="1.1" fill="none"/>
<path d="M 77.70 108.4 L 80.70 108.4 L 80.70 111.0" stroke="#c6002e" stroke-width="1.1" fill="none"/>
<path d="M 81.60 108.4 L 84.60 108.4 L 84.60 111.0" stroke="#c6002e" stroke-width="1.1" fill="none"/>
<path d="M 85.50 108.4 L 88.50 108.4 L 88.50 111.0" stroke="#c6002e" stroke-width="1.1" fill="none"/>
<path d="M 89.40 108.4 L 92.40 108.4 L 92.40 111.0" stroke="#c6002e" stroke-width="1.1" fill="none"/>
<path d="M 93.30 108.4 L 96.30 108.4 L 96.30 111.0" stroke="#c6002e" stroke-width="1.1" fill="none"/>
<path d="M 97.20 108.4 L 100.20 108.4 L 100.20 111.0" stroke="#c6002e" stroke-width="1.1" fill="none"/>
<path d="M 101.10 108.4 L 104.10 108.4 L 104.10 111.0" stroke="#c6002e" stroke-width="1.1" fill="none"/>
<path d="M 105.00 108.4 L 108.00 108.4 L 108.00 111.0" stroke="#c6002e" stroke-width="1.1" fill="none"/>
<path d="M 108.90 108.4 L 111.90 108.4 L 111.90 111.0" stroke="#c6002e" stroke-width="1.1" fill="none"/>
<path d="M 112.80 108.4 L 115.80 108.4 L 115.80 111.0" stroke="#c6002e" stroke-width="1.1" fill="none"/>
<path d="M 116.70 108.4 L 119.70 108.4 L 119.70 111.0" stroke="#c6002e" stroke-width="1.1" fill="none"/>
<path d="M 120.60 108.4 L 123.60 108.4 L 123.60 111.0" stroke="#c6002e" stroke-width="1.1" fill="none"/>
<path d="M 124.50 108.4 L 127.50 108.4 L 127.50 111.0" stroke="#c6002e" stroke-width="1.1" fill="none"/>
<path d="M 128.40 108.4 L 131.40 108.4 L 131.40 111.0" stroke="#c6002e" stroke-width="1.1" fill="none"/>
<path d="M 132.30 108.4 L 135.30 108.4 L 135.30 111.0" stroke="#c6002e" stroke-width="1.1" fill="none"/>
<path d="M 136.20 108.4 L 139.20 108.4 L 139.20 111.0" stroke="#c6002e" stroke-width="1.1" fill="none"/>
<path d="M 140.10 108.4 L 143.10 108.4 L 143.10 111.0" stroke="#c6002e" stroke-width="1.1" fill="none"/>
<path d="M 72.80 119.0 L 72.80 121.9 L 75.70 121.9" stroke="#2f6eab" stroke-width="1.15" fill="none"/>
<path d="M 76.91 119.0 L 76.91 121.9 L 79.81 121.9" stroke="#2f6eab" stroke-width="1.15" fill="none"/>
<path d="M 81.01 119.0 L 81.01 121.9 L 83.91 121.9" stroke="#2f6eab" stroke-width="1.15" fill="none"/>
<path d="M 85.12 119.0 L 85.12 121.9 L 88.02 121.9" stroke="#2f6eab" stroke-width="1.15" fill="none"/>
<path d="M 89.22 119.0 L 89.22 121.9 L 92.12 121.9" stroke="#2f6eab" stroke-width="1.15" fill="none"/>
<path d="M 93.33 119.0 L 93.33 121.9 L 96.23 121.9" stroke="#2f6eab" stroke-width="1.15" fill="none"/>
<path d="M 97.44 119.0 L 97.44 121.9 L 100.34 121.9" stroke="#2f6eab" stroke-width="1.15" fill="none"/>
<path d="M 101.54 119.0 L 101.54 121.9 L 104.44 121.9" stroke="#2f6eab" stroke-width="1.15" fill="none"/>
<path d="M 105.65 119.0 L 105.65 121.9 L 108.55 121.9" stroke="#2f6eab" stroke-width="1.15" fill="none"/>
<path d="M 109.75 119.0 L 109.75 121.9 L 112.65 121.9" stroke="#2f6eab" stroke-width="1.15" fill="none"/>
<path d="M 113.86 119.0 L 113.86 121.9 L 116.76 121.9" stroke="#2f6eab" stroke-width="1.15" fill="none"/>
<path d="M 117.96 119.0 L 117.96 121.9 L 120.86 121.9" stroke="#2f6eab" stroke-width="1.15" fill="none"/>
<path d="M 122.07 119.0 L 122.07 121.9 L 124.97 121.9" stroke="#2f6eab" stroke-width="1.15" fill="none"/>
<path d="M 126.18 119.0 L 126.18 121.9 L 129.08 121.9" stroke="#2f6eab" stroke-width="1.15" fill="none"/>
<path d="M 130.28 119.0 L 130.28 121.9 L 133.18 121.9" stroke="#2f6eab" stroke-width="1.15" fill="none"/>
<path d="M 134.39 119.0 L 134.39 121.9 L 137.29 121.9" stroke="#2f6eab" stroke-width="1.15" fill="none"/>
<path d="M 138.49 119.0 L 138.49 121.9 L 141.39 121.9" stroke="#2f6eab" stroke-width="1.15" fill="none"/>
<path d="M 142.60 119.0 L 142.60 121.9 L 145.50 121.9" stroke="#2f6eab" stroke-width="1.15" fill="none"/>
<text x="73.90" y="104.70" font-size="7.2" stroke="#c6002e" stroke-width="0.06" text-anchor="middle" fill="#c6002e" textLength="11.60" lengthAdjust="spacingAndGlyphs">y16</text>
<text x="95.70" y="104.70" font-size="7.2" stroke="#c6002e" stroke-width="0.06" text-anchor="middle" fill="#c6002e" textLength="10.60" lengthAdjust="spacingAndGlyphs">y11</text>
<text x="118.90" y="104.70" font-size="7.2" stroke="#c6002e" stroke-width="0.06" text-anchor="middle" fill="#c6002e" textLength="6.80" lengthAdjust="spacingAndGlyphs">y6</text>
<text x="141.80" y="104.70" font-size="7.2" stroke="#c6002e" stroke-width="0.06" text-anchor="middle" fill="#c6002e" textLength="5.90" lengthAdjust="spacingAndGlyphs">y1</text>
<text x="76.00" y="129.50" font-size="7.2" stroke="#2f6eab" stroke-width="0.06" text-anchor="middle" fill="#2f6eab" textLength="6.40" lengthAdjust="spacingAndGlyphs">b1</text>
<text x="99.20" y="129.50" font-size="7.2" stroke="#2f6eab" stroke-width="0.06" text-anchor="middle" fill="#2f6eab" textLength="7.50" lengthAdjust="spacingAndGlyphs">b6</text>
<text x="123.50" y="129.50" font-size="7.2" stroke="#2f6eab" stroke-width="0.06" text-anchor="middle" fill="#2f6eab" textLength="10.60" lengthAdjust="spacingAndGlyphs">b11</text>
<text x="146.30" y="129.50" font-size="7.2" stroke="#2f6eab" stroke-width="0.06" text-anchor="middle" fill="#2f6eab" textLength="12.00" lengthAdjust="spacingAndGlyphs">b16</text>
<text x="61.50" y="216.80" font-size="7.2" stroke="#c6002e" stroke-width="0.06" text-anchor="middle" fill="#c6002e" textLength="6.40" lengthAdjust="spacingAndGlyphs">y2</text>
<line x1="61.80" y1="220.00" x2="61.80" y2="249.00" stroke="#c6002e" stroke-width="1.4" stroke-dasharray="2.2 2.0"/>
<line x1="61.80" y1="263.50" x2="61.80" y2="270.00" stroke="#c6002e" stroke-width="1.4" stroke-dasharray="2.2 2.0"/>
<text x="62.65" y="254.50" font-size="7.2" stroke="#1a1a1a" stroke-width="0.22" text-anchor="middle" textLength="20.90" lengthAdjust="spacingAndGlyphs">227.14</text>
<text x="62.65" y="260.90" font-size="7.2" stroke="#1a1a1a" stroke-width="0.22" text-anchor="middle" textLength="11.00" lengthAdjust="spacingAndGlyphs">z=1</text>
<path d="M 74.40 191.30 L 76.60 193.50 L 74.40 195.70 L 72.20 193.50 Z" stroke="#000" stroke-width="1.25" fill="#6b2d9a"/>
<line x1="74.40" y1="195.70" x2="74.40" y2="199.40" stroke="#000" stroke-width="0.9"/>
<path d="M 72.30 197.40 L 72.30 199.40 L 76.80 199.40" stroke="#000" stroke-width="1.2" fill="none"/>
<line x1="74.40" y1="203.40" x2="74.40" y2="228.50" stroke="#111" stroke-width="1.2" stroke-dasharray="2 1.7"/>
<line x1="74.40" y1="245.20" x2="74.40" y2="272.50" stroke="#111" stroke-width="1.2" stroke-dasharray="2 1.7"/>
<text x="74.95" y="236.10" font-size="7.2" stroke="#1a1a1a" stroke-width="0.22" text-anchor="middle" textLength="21.90" lengthAdjust="spacingAndGlyphs">290.09</text>
<text x="74.15" y="242.50" font-size="7.2" stroke="#1a1a1a" stroke-width="0.22" text-anchor="middle" textLength="10.30" lengthAdjust="spacingAndGlyphs">z=1</text>
<text x="130.15" y="163.60" font-size="7.2" stroke="#2f6eab" stroke-width="0.06" text-anchor="middle" fill="#2f6eab" textLength="7.50" lengthAdjust="spacingAndGlyphs">b7</text>
<line x1="130.00" y1="170.20" x2="130.00" y2="200.50" stroke="#2f6eab" stroke-width="1.4" stroke-dasharray="2.2 2.0"/>
<line x1="130.00" y1="216.50" x2="130.00" y2="244.50" stroke="#2f6eab" stroke-width="1.4" stroke-dasharray="2.2 2.0"/>
<text x="130.15" y="207.20" font-size="7.2" stroke="#1a1a1a" stroke-width="0.22" text-anchor="middle" textLength="21.90" lengthAdjust="spacingAndGlyphs">568.19</text>
<text x="130.15" y="213.60" font-size="7.2" stroke="#1a1a1a" stroke-width="0.22" text-anchor="middle" textLength="11.00" lengthAdjust="spacingAndGlyphs">z=2</text>
<text x="166.15" y="180.50" font-size="7.2" stroke="#2f6eab" stroke-width="0.06" text-anchor="middle" fill="#2f6eab" textLength="8.10" lengthAdjust="spacingAndGlyphs">b9</text>
<line x1="165.70" y1="183.40" x2="165.70" y2="192.00" stroke="#2f6eab" stroke-width="1.4" stroke-dasharray="2.2 2.0"/>
<line x1="165.70" y1="209.50" x2="165.70" y2="261.50" stroke="#2f6eab" stroke-width="1.4" stroke-dasharray="2.2 2.0"/>
<text x="165.75" y="199.10" font-size="7.2" stroke="#1a1a1a" stroke-width="0.22" text-anchor="middle" textLength="21.90" lengthAdjust="spacingAndGlyphs">746.22</text>
<text x="165.75" y="205.50" font-size="7.2" stroke="#1a1a1a" stroke-width="0.22" text-anchor="middle" textLength="11.00" lengthAdjust="spacingAndGlyphs">z=2</text>
<text x="191.50" y="192.00" font-size="7.2" stroke="#2f6eab" stroke-width="0.06" text-anchor="middle" fill="#2f6eab" textLength="10.60" lengthAdjust="spacingAndGlyphs">b11</text>
<line x1="191.90" y1="195.20" x2="191.90" y2="209.50" stroke="#2f6eab" stroke-width="1.4" stroke-dasharray="2.2 2.0"/>
<line x1="191.90" y1="228.60" x2="191.90" y2="235.50" stroke="#2f6eab" stroke-width="1.4" stroke-dasharray="2.2 2.0"/>
<text x="190.80" y="218.30" font-size="7.2" stroke="#1a1a1a" stroke-width="0.22" text-anchor="middle" textLength="21.40" lengthAdjust="spacingAndGlyphs">876.80</text>
<text x="190.80" y="224.70" font-size="7.2" stroke="#1a1a1a" stroke-width="0.22" text-anchor="middle" textLength="11.00" lengthAdjust="spacingAndGlyphs">z=2</text>
<text x="180.75" y="237.40" font-size="7.2" stroke="#2f6eab" stroke-width="0.06" text-anchor="middle" fill="#2f6eab" textLength="11.90" lengthAdjust="spacingAndGlyphs">b10</text>
<line x1="180.50" y1="240.00" x2="180.50" y2="245.00" stroke="#2f6eab" stroke-width="1.4" stroke-dasharray="2.2 2.0"/>
<line x1="180.50" y1="264.30" x2="180.50" y2="270.80" stroke="#2f6eab" stroke-width="1.4" stroke-dasharray="2.2 2.0"/>
<text x="180.10" y="253.80" font-size="7.2" stroke="#1a1a1a" stroke-width="0.22" text-anchor="middle" textLength="21.40" lengthAdjust="spacingAndGlyphs">819.75</text>
<text x="180.10" y="260.20" font-size="7.2" stroke="#1a1a1a" stroke-width="0.22" text-anchor="middle" textLength="11.70" lengthAdjust="spacingAndGlyphs">z=3</text>
<text x="190.80" y="147.20" font-size="7.2" stroke="#2db34a" stroke-width="0.06" fill="#2db34a" textLength="15.20" lengthAdjust="spacingAndGlyphs">[M –</text>
<rect x="207.55" y="137.60" width="4.6" height="4.6" fill="#1f63a8" stroke="#000" stroke-width="0.9"/>
<line x1="209.85" y1="132.90" x2="209.85" y2="137.60" stroke="#000" stroke-width="0.9"/>
<line x1="209.85" y1="125.90" x2="209.85" y2="130.90" stroke="#000" stroke-width="0.9"/>
<path d="M 209.90 123.70 L 212.10 125.90 L 209.90 128.10 L 207.70 125.90 Z" stroke="#000" stroke-width="1.25" fill="#6b2d9a"/>
<circle cx="209.70" cy="132.90" r="2.1" fill="#f6c21c" stroke="#000" stroke-width="0.9"/>
<line x1="212.20" y1="139.90" x2="214.80" y2="139.90" stroke="#000" stroke-width="0.9"/>
<path d="M 214.6 139.8 L 219.5 137.4 L 219.5 142.3 Z" stroke="#000" stroke-width="0.9" fill="#c6002e"/>
<line x1="209.85" y1="142.20" x2="209.85" y2="146.20" stroke="#000" stroke-width="0.9"/>
<path d="M 207.75 144.20 L 207.75 146.20 L 212.25 146.20" stroke="#000" stroke-width="1.2" fill="none"/>
<text x="221.40" y="148.00" font-size="7.2" stroke="#2db34a" stroke-width="0.06" fill="#2db34a">]</text>
<text x="225.40" y="144.00" font-size="4.2" fill="#2db34a" fill-opacity="0.85">–</text>
<line x1="203.10" y1="150.50" x2="203.10" y2="162.00" stroke="#2db34a" stroke-width="1.4" stroke-dasharray="2.2 2.0"/>
<line x1="203.10" y1="178.60" x2="203.10" y2="262.00" stroke="#2db34a" stroke-width="1.4" stroke-dasharray="2.2 2.0"/>
<text x="203.55" y="169.40" font-size="7.2" stroke="#1a1a1a" stroke-width="0.22" text-anchor="middle" textLength="22.10" lengthAdjust="spacingAndGlyphs">933.69</text>
<text x="203.55" y="175.80" font-size="7.2" stroke="#1a1a1a" stroke-width="0.22" text-anchor="middle" textLength="11.00" lengthAdjust="spacingAndGlyphs">z=3</text>
<text x="237.45" y="101.40" font-size="7.2" stroke="#1a1a1a" stroke-width="0.22" text-anchor="middle" textLength="25.50" lengthAdjust="spacingAndGlyphs">1104.75</text>
<text x="237.45" y="107.80" font-size="7.2" stroke="#1a1a1a" stroke-width="0.22" text-anchor="middle" textLength="11.70" lengthAdjust="spacingAndGlyphs">z=3</text>
<line x1="245.20" y1="106.00" x2="252.60" y2="114.60" stroke="#2db34a" stroke-width="1.3" stroke-dasharray="1.9 2.1"/>
<text x="240.90" y="125.80" font-size="7.2" stroke="#2db34a" stroke-width="0.06" fill="#2db34a" textLength="15.00" lengthAdjust="spacingAndGlyphs">[M –</text>
<path d="M 259.90 115.00 L 262.20 117.30 L 259.90 119.60 L 257.60 117.30 Z" stroke="#000" stroke-width="1.25" fill="#6b2d9a"/>
<line x1="259.90" y1="119.60" x2="259.90" y2="125.20" stroke="#000" stroke-width="0.9"/>
<path d="M 257.70 123.20 L 257.70 125.20 L 262.40 125.20" stroke="#000" stroke-width="1.2" fill="none"/>
<text x="263.40" y="126.30" font-size="7.2" stroke="#2db34a" stroke-width="0.06" fill="#2db34a">]</text>
<text x="267.30" y="122.40" font-size="4.2" fill="#2db34a" fill-opacity="0.85">–</text>
<text x="204.00" y="195.00" font-size="7.2" stroke="#2db34a" stroke-width="0.06" fill="#2db34a" textLength="15.00" lengthAdjust="spacingAndGlyphs">[M –</text>
<path d="M 223.70 177.00 L 226.00 179.30 L 223.70 181.60 L 221.40 179.30 Z" stroke="#000" stroke-width="1.25" fill="#6b2d9a"/>
<line x1="223.70" y1="181.60" x2="223.70" y2="184.30" stroke="#000" stroke-width="0.9"/>
<circle cx="223.60" cy="186.30" r="2.1" fill="#f6c21c" stroke="#000" stroke-width="0.9"/>
<line x1="223.70" y1="188.40" x2="223.70" y2="193.70" stroke="#000" stroke-width="0.9"/>
<path d="M 221.50 191.70 L 221.50 193.70 L 226.20 193.70" stroke="#000" stroke-width="1.2" fill="none"/>
<text x="229.80" y="195.60" font-size="7.2" stroke="#2db34a" stroke-width="0.06" fill="#2db34a">]</text>
<text x="233.30" y="191.60" font-size="4.2" fill="#2db34a" fill-opacity="0.85">–</text>
<line x1="226.60" y1="199.40" x2="226.60" y2="213.20" stroke="#2db34a" stroke-width="1.4" stroke-dasharray="2.2 2.0"/>
<line x1="226.60" y1="230.40" x2="226.60" y2="264.20" stroke="#2db34a" stroke-width="1.4" stroke-dasharray="2.2 2.0"/>
<text x="223.85" y="221.50" font-size="7.2" stroke="#1a1a1a" stroke-width="0.22" text-anchor="middle" textLength="25.50" lengthAdjust="spacingAndGlyphs">1050.07</text>
<text x="223.85" y="227.90" font-size="7.2" stroke="#1a1a1a" stroke-width="0.22" text-anchor="middle" textLength="11.90" lengthAdjust="spacingAndGlyphs">z=3</text>
<text x="243.85" y="159.70" font-size="7.2" stroke="#2f6eab" stroke-width="0.06" text-anchor="middle" fill="#2f6eab" textLength="7.10" lengthAdjust="spacingAndGlyphs">b7</text>
<line x1="244.20" y1="164.50" x2="244.20" y2="170.60" stroke="#2f6eab" stroke-width="1.4" stroke-dasharray="2.2 2.0"/>
<line x1="244.20" y1="190.00" x2="244.20" y2="267.50" stroke="#2f6eab" stroke-width="1.4" stroke-dasharray="2.2 2.0"/>
<text x="251.40" y="181.40" font-size="7.2" stroke="#1a1a1a" stroke-width="0.22" text-anchor="middle" textLength="24.80" lengthAdjust="spacingAndGlyphs">1137.38</text>
<text x="251.40" y="187.80" font-size="7.2" stroke="#1a1a1a" stroke-width="0.22" text-anchor="middle" textLength="10.30" lengthAdjust="spacingAndGlyphs">z=1</text>
<text x="248.70" y="208.00" font-size="7.2" stroke="#c6002e" stroke-width="0.06" fill="#c6002e" textLength="30.00" lengthAdjust="spacingAndGlyphs">[M – Ac]</text>
<text x="279.50" y="204.20" font-size="4.2" fill="#c6002e" fill-opacity="0.85">–</text>
<line x1="254.60" y1="209.80" x2="254.60" y2="228.20" stroke="#c6002e" stroke-width="1.4" stroke-dasharray="2.2 2.0"/>
<line x1="254.60" y1="246.30" x2="254.60" y2="265.20" stroke="#c6002e" stroke-width="1.4" stroke-dasharray="2.2 2.0"/>
<text x="262.75" y="236.00" font-size="7.2" stroke="#1a1a1a" stroke-width="0.22" text-anchor="middle" textLength="25.30" lengthAdjust="spacingAndGlyphs">1187.12</text>
<text x="262.75" y="242.40" font-size="7.2" stroke="#1a1a1a" stroke-width="0.22" text-anchor="middle" textLength="11.10" lengthAdjust="spacingAndGlyphs">z=3</text>
</svg>
<div class="frame"></div>
</body></html>
